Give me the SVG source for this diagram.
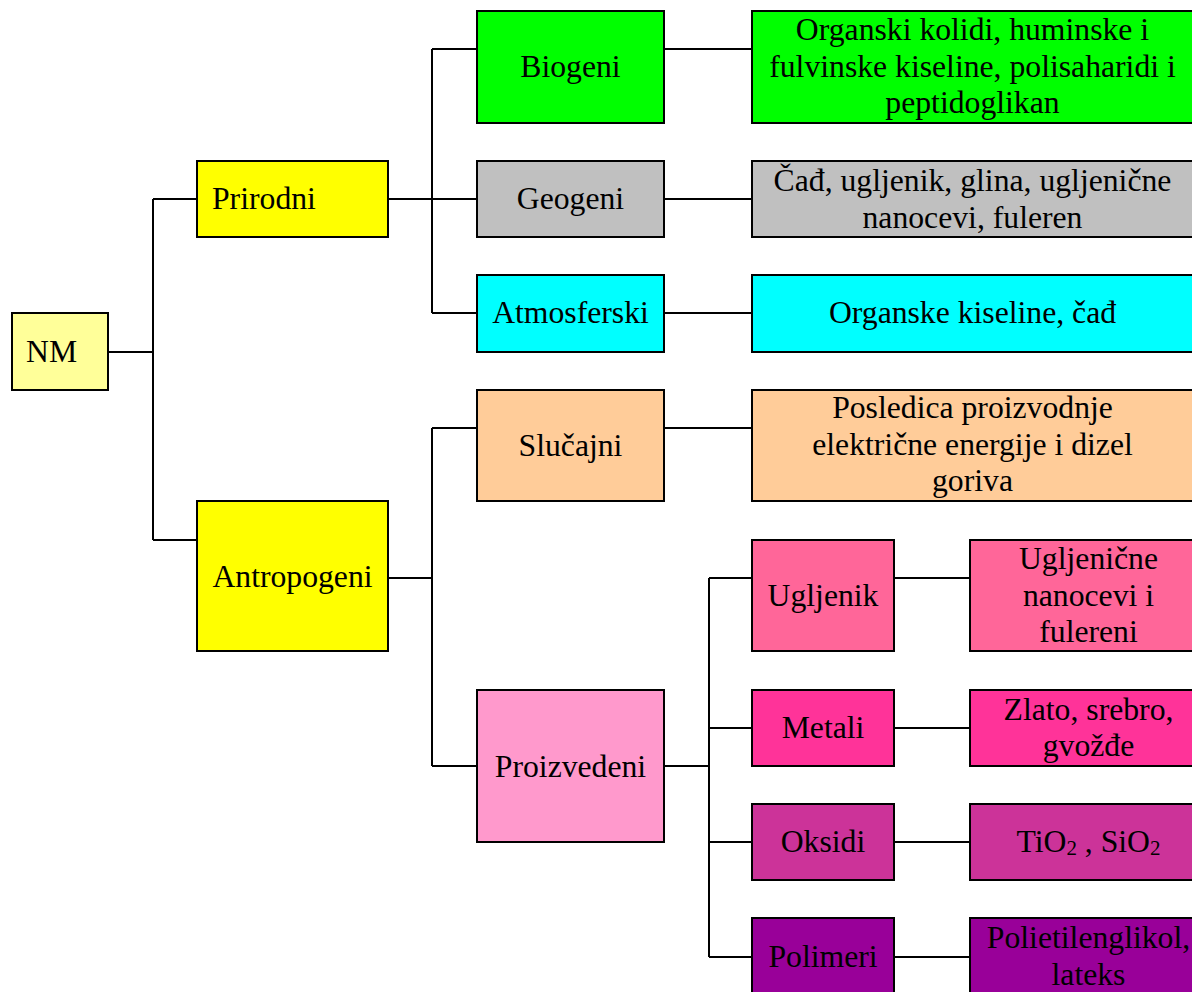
<svg xmlns="http://www.w3.org/2000/svg" width="1192" height="992" viewBox="0 0 1192 992">
<style>
rect{stroke:#000;stroke-width:2}
text{font-family:"Liberation Serif","Times New Roman",serif;font-size:31.7px;fill:#000;text-anchor:middle}
.l{text-anchor:start}
.c path{fill:none;stroke:#000;stroke-width:2}
.sub{font-size:21px}
</style>
<rect x="0" y="0" width="1192" height="992" fill="#fff" style="stroke:none"/>
<g class="c" id="connectors">
<path d="M108 352H153M153 199V540M153 199H197M153 540H197"/>
<path d="M388 199H432M432 49V313M432 49H477M432 199H477M432 313H477"/>
<path d="M664 49H752M664 199H752M664 313H752"/>
<path d="M388 578H432M432 428V766M432 428H477M432 766H477"/>
<path d="M664 428H752"/>
<path d="M664 766H709M709 578V957M709 578H752M709 728H752M709 842H752M709 957H752"/>
<path d="M894 578H970M894 728H970M894 842H970M894 957H970"/>
</g>
<g id="nm"><rect x="12" y="313" width="96" height="77" fill="#FFFF99"/><text class="l" x="26" y="362">NM</text></g>
<g id="prirodni"><rect x="197" y="161" width="191" height="76" fill="#FFFF00"/><text class="l" x="212" y="209">Prirodni</text></g>
<g id="antropogeni"><rect x="197" y="501" width="191" height="150" fill="#FFFF00"/><text x="292.5" y="587">Antropogeni</text></g>
<g id="biogeni"><rect x="477" y="11" width="187" height="112" fill="#00FF00"/><text x="570.5" y="77">Biogeni</text></g>
<g id="geogeni"><rect x="477" y="161" width="187" height="76" fill="#C0C0C0"/><text x="570.5" y="209">Geogeni</text></g>
<g id="atmosferski"><rect x="477" y="275" width="187" height="77" fill="#00FFFF"/><text x="570.5" y="323">Atmosferski</text></g>
<g id="slucajni"><rect x="477" y="390" width="187" height="111" fill="#FFCC99"/><text x="570.5" y="456">Slučajni</text></g>
<g id="proizvedeni"><rect x="477" y="690" width="187" height="152" fill="#FF99CC"/><text x="570.5" y="777">Proizvedeni</text></g>
<g id="biogeni-desc"><rect x="752" y="11" width="441" height="112" fill="#00FF00"/><text x="972.5" y="40">Organski kolidi, huminske i</text><text x="972.5" y="77">fulvinske kiseline, polisaharidi i</text><text x="972.5" y="113">peptidoglikan</text></g>
<g id="geogeni-desc"><rect x="752" y="161" width="441" height="76" fill="#C0C0C0"/><text x="972.5" y="191">Čađ, ugljenik, glina, ugljenične</text><text x="972.5" y="228">nanocevi, fuleren</text></g>
<g id="atmosferski-desc"><rect x="752" y="275" width="441" height="77" fill="#00FFFF"/><text x="972.5" y="323">Organske kiseline, čađ</text></g>
<g id="slucajni-desc"><rect x="752" y="390" width="441" height="111" fill="#FFCC99"/><text x="972.5" y="418">Posledica proizvodnje</text><text x="972.5" y="455">električne energije i dizel</text><text x="972.5" y="491">goriva</text></g>
<g id="ugljenik"><rect x="752" y="540" width="142" height="111" fill="#FF6699"/><text x="823" y="606">Ugljenik</text></g>
<g id="metali"><rect x="752" y="690" width="142" height="76" fill="#FF3399"/><text x="823" y="738">Metali</text></g>
<g id="oksidi"><rect x="752" y="804" width="142" height="76" fill="#CC3399"/><text x="823" y="852">Oksidi</text></g>
<g id="polimeri"><rect x="752" y="918" width="142" height="76" fill="#990099"/><text x="823" y="967">Polimeri</text></g>
<g id="ugljenik-desc"><rect x="970" y="540" width="237" height="111" fill="#FF6699"/><text x="1088.5" y="569">Ugljenične</text><text x="1088.5" y="606">nanocevi i</text><text x="1088.5" y="642">fulereni</text></g>
<g id="metali-desc"><rect x="970" y="690" width="237" height="76" fill="#FF3399"/><text x="1088.5" y="720">Zlato, srebro,</text><text x="1088.5" y="756">gvožđe</text></g>
<g id="oksidi-desc"><rect x="970" y="804" width="237" height="76" fill="#CC3399"/><text x="1088.5" y="852">TiO<tspan class="sub" dy="3">2</tspan><tspan dy="-3"> , SiO</tspan><tspan class="sub" dy="3">2</tspan></text></g>
<g id="polimeri-desc"><rect x="970" y="918" width="237" height="76" fill="#990099"/><text x="1088.5" y="948">Polietilenglikol,</text><text x="1088.5" y="985">lateks</text></g>
</svg>
